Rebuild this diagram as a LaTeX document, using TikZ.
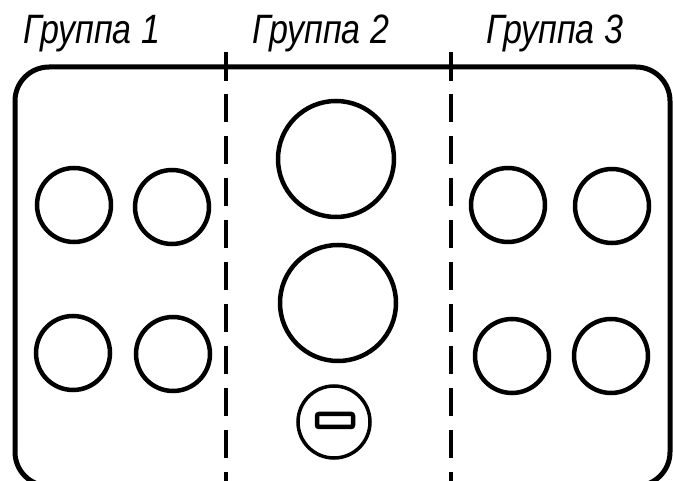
\documentclass[tikz,border=0pt]{standalone}
\usepackage{fontspec}
\setmainfont{Liberation Sans}
\begin{document}
\begin{tikzpicture}[x=1pt,y=-1pt,
  hole/.style={circle,draw,line width=4.5pt,inner sep=0pt,minimum size=74pt},
  bighole/.style={circle,draw,line width=4.5pt,inner sep=0pt,minimum size=116pt},
  smallhole/.style={circle,draw,line width=3.5pt,inner sep=0pt,minimum size=72pt},
  grp/.style={font=\fontsize{41}{41}\selectfont\itshape,inner sep=0pt,anchor=base,xscale=0.83},
  divider/.style={line width=3.8pt,dash pattern=on 28pt off 14pt}]
\useasboundingbox[fill=white] (0,0) rectangle (673,481);
% housing
\begin{scope}
\clip (0,0) rectangle (673,481);
\draw[line width=5pt,rounded corners=34pt] (15,67) rectangle (670,486);
\end{scope}
% dividers
\coordinate (d1t) at (226,52); \coordinate (d1m) at (226,81); \coordinate (d1d) at (226,94); \coordinate (d1b) at (226,481);
\coordinate (d2t) at (451,52); \coordinate (d2m) at (451,81); \coordinate (d2d) at (451,94); \coordinate (d2b) at (451,481);
\draw[line width=3.8pt] (d1t) -- (d1m);
\draw[line width=3.8pt] (d2t) -- (d2m);
\draw[divider] (d1d) -- (d1b);
\draw[divider] (d2d) -- (d2b);
% labels
\node[grp] (l1) at (92,44) {Группа 1};
\node[grp] (l2) at (321,44) {Группа 2};
\node[grp] (l3) at (555,44) {Группа 3};
% group 1
\node[hole] (a1) at (74,205) {};
\node[hole] (a2) at (172,207) {};
\node[hole] (a3) at (73,353) {};
\node[hole] (a4) at (173,354) {};
% group 2
\node[bighole] (b1) at (336,159) {};
\node[bighole] (b2) at (338,303) {};
\node[smallhole] (b3) at (334,422) {};
\draw[line width=4.5pt,rounded corners=2pt] (317,414) rectangle (353,427);
% group 3
\node[hole] (c1) at (508,205) {};
\node[hole] (c2) at (612,206) {};
\node[hole] (c3) at (512,356) {};
\node[hole] (c4) at (611,356) {};
\end{tikzpicture}
\end{document}
